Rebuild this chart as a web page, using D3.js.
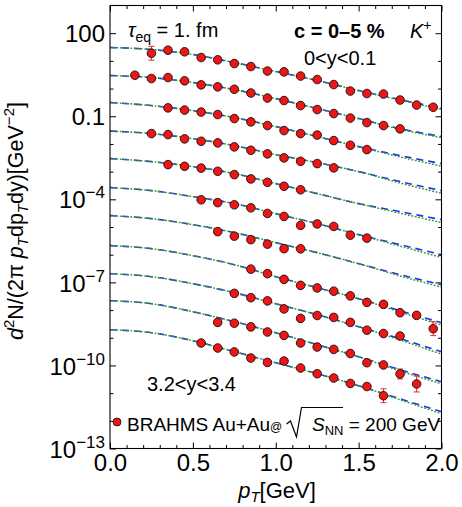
<!DOCTYPE html>
<html>
<head>
<meta charset="utf-8">
<script src="https://cdn.jsdelivr.net/npm/d3@7"></script>
<style>
body { margin: 0; background: #fff; }
svg { display: block; font-family: "Liberation Sans", Arial, sans-serif; }
</style>
</head>
<body>
<svg id="chart" width="462" height="507"></svg>
<script>
// pT bin centres (GeV) shared by all rapidity slices
const pTBins = [0.15, 0.25, 0.35, 0.45, 0.55, 0.65, 0.75, 0.85, 0.95, 1.05, 1.15, 1.25, 1.35, 1.45, 1.55, 1.65, 1.75, 1.85, 1.95];
// index of the first measured bin of each slice (top = 0<y<0.1, bottom = 3.2<y<3.4)
const firstBin = [1, 0, 2, 1, 2, 4, 5, 7, 6, 5, 4];
// BRAHMS points, log10 of the (scaled) yield as plotted
const logYield = [
    [1.276, 1.385, 1.327, 1.121, 1.038, 0.904, 0.796, 0.633, 0.604, 0.452, 0.326, 0.145, -0.090, -0.180, -0.198, -0.415, -0.596, -0.675],
    [0.481, 0.362, 0.398, 0.279, 0.134, 0.062, -0.025, -0.162, -0.343, -0.433, -0.614, -0.758, -0.903, -1.066, -1.228, -1.337, -1.456],
    [-0.697, -0.777, -0.849, -0.939, -1.084, -1.203, -1.337, -1.517, -1.626, -1.680, -1.879, -2.049, -2.204],
    [-1.626, -1.662, -1.817, -1.904, -1.962, -2.106, -2.229, -2.359, -2.504, -2.627, -2.710, -2.865],
    [-2.746, -2.808, -2.873, -2.988, -3.108, -3.263, -3.386, -3.530, -3.657],
    [-4.018, -4.119, -4.199, -4.307, -4.510, -4.618, -4.940, -4.889, -4.980, -5.294, -5.402],
    [-5.168, -5.330, -5.457, -5.619, -5.782, -5.789],
    [-6.523, -6.685, -6.891, -7.108, -7.202, -7.318, -7.488, -7.723, -7.795, -8.095, -8.192, -8.673],
    [-7.397, -7.553, -7.669, -7.958, -8.301, -8.196, -8.265, -8.445, -8.727, -8.847, -8.937],
    [-8.445, -8.474, -8.608, -8.792, -8.915, -9.190, -9.335, -9.421, -9.569, -9.902, -9.982, -10.307, -10.668],
    [-9.190, -9.371, -9.512, -9.732, -9.891, -9.841, -10.093, -10.299, -10.455, -10.650, -10.762, -11.095]
];
// [slice, pT, half width in log10]
const errorBars = [
    [0, 0.25, 0.25],
    [7, 1.75, 0.08], [7, 1.85, 0.08], [7, 1.95, 0.25],
    [8, 1.55, 0.05], [8, 1.65, 0.06], [8, 1.75, 0.06],
    [9, 1.45, 0.06], [9, 1.55, 0.08], [9, 1.65, 0.1], [9, 1.75, 0.18], [9, 1.85, 0.29],
    [10, 1.45, 0.08], [10, 1.55, 0.1], [10, 1.65, 0.25]
];

// model curves, log10 values at these pT nodes
const curvePt = [0, 0.25, 0.5, 0.75, 1.0, 1.25, 1.5, 1.75, 2.0];
const blueLog = [
    [1.482, 1.410, 1.229, 0.940, 0.615, 0.290, -0.072, -0.397, -0.722],
    [0.470, 0.398, 0.217, -0.036, -0.361, -0.722, -1.084, -1.445, -1.734],
    [-0.505, -0.614, -0.795, -1.048, -1.373, -1.734, -2.096, -2.421, -2.710],
    [-1.535, -1.626, -1.807, -2.060, -2.385, -2.674, -2.999, -3.360, -3.686],
    [-2.529, -2.638, -2.818, -3.071, -3.433, -3.794, -4.156, -4.445, -4.734],
    [-3.577, -3.686, -3.903, -4.156, -4.517, -4.878, -5.276, -5.637, -5.999],
    [-4.589, -4.698, -4.915, -5.204, -5.565, -5.926, -6.324, -6.722, -7.083],
    [-5.673, -5.782, -6.035, -6.360, -6.794, -7.191, -7.589, -8.023, -8.456],
    [-6.685, -6.794, -7.047, -7.372, -7.770, -8.167, -8.601, -9.035, -9.504],
    [-7.661, -7.770, -8.059, -8.420, -8.818, -9.251, -9.685, -10.155, -10.589],
    [-8.709, -8.818, -9.107, -9.504, -9.902, -10.299, -10.733, -11.203, -11.673]
];
const greenLog = [
    [1.482, 1.410, 1.229, 0.940, 0.615, 0.290, -0.072, -0.417, -0.752],
    [0.470, 0.398, 0.217, -0.036, -0.361, -0.722, -1.084, -1.470, -1.770],
    [-0.505, -0.614, -0.795, -1.048, -1.373, -1.734, -2.096, -2.470, -2.800],
    [-1.535, -1.626, -1.807, -2.060, -2.385, -2.674, -2.999, -3.410, -3.780],
    [-2.529, -2.638, -2.818, -3.071, -3.433, -3.794, -4.156, -4.500, -4.840],
    [-3.577, -3.686, -3.903, -4.156, -4.517, -4.878, -5.276, -5.690, -6.100],
    [-4.589, -4.698, -4.915, -5.204, -5.565, -5.926, -6.324, -6.770, -7.170],
    [-5.673, -5.782, -6.035, -6.360, -6.794, -7.191, -7.589, -8.070, -8.540],
    [-6.685, -6.794, -7.047, -7.372, -7.770, -8.167, -8.601, -9.080, -9.590],
    [-7.661, -7.770, -8.059, -8.420, -8.818, -9.251, -9.685, -10.200, -10.660],
    [-8.709, -8.818, -9.107, -9.504, -9.902, -10.299, -10.733, -11.240, -11.740]
];

const xMajor = [0, 0.5, 1.0, 1.5, 2.0];
const xMinor = [0.1, 0.2, 0.3, 0.4, 0.6, 0.7, 0.8, 0.9, 1.1, 1.2, 1.3, 1.4, 1.6, 1.7, 1.8, 1.9];
const yMajor = [1e2, 1e-1, 1e-4, 1e-7, 1e-10, 1e-13];
const yLabels = [["100", ""], ["0.1", ""], ["10", "\u22124"], ["10", "\u22127"], ["10", "\u221210"], ["10", "\u221213"]];
const yMinor = [1e1, 1, 1e-2, 1e-3, 1e-5, 1e-6, 1e-8, 1e-9, 1e-11, 1e-12];

const fontFamily = "Liberation Sans, Arial, sans-serif";

const addRuns = (textSel, runs) => {
    let cur = 0;
    runs.forEach(r => {
        const shift = r.shift || 0;
        const ts = textSel.append("tspan").attr("dy", shift - cur).text(r.t);
        cur = shift;
        if (r.x !== undefined) ts.attr("x", r.x);
        if (r.size) ts.attr("font-size", r.size);
        if (r.italic) ts.attr("font-style", "italic");
        if (r.bold) ts.attr("font-weight", "bold");
    });
};

const svg = d3.select("#chart");
const margin = { top: 5.5, right: 20.5, bottom: 58.5, left: 110 };
const width = 462 - margin.left - margin.right;
const height = 507 - margin.top - margin.bottom;

const chartArea = svg.append("g")
    .attr("transform", `translate(${margin.left},${margin.top})`);

const xScale = d3.scaleLinear().domain([0, 2]).range([0, width]);
const yScale = d3.scaleLog().domain([1e-13, 1e3]).range([height, 0]);

chartArea.append("clipPath").attr("id", "plot-clip")
    .append("rect").attr("width", width).attr("height", height);

// model curves
const line = d3.line()
    .x(d => xScale(d[0]))
    .y(d => yScale(10 ** d[1]))
    .curve(d3.curveMonotoneX);

const curves = chartArea.append("g").attr("clip-path", "url(#plot-clip)");
blueLog.forEach(row => {
    curves.append("path")
        .attr("d", line(curvePt.map((p, i) => [p, row[i]])))
        .attr("fill", "none")
        .attr("stroke", "#1f36e8")
        .attr("stroke-width", 1.6)
        .attr("stroke-dasharray", "7,5");
});
greenLog.forEach(row => {
    curves.append("path")
        .attr("d", line(curvePt.map((p, i) => [p, row[i]])))
        .attr("fill", "none")
        .attr("stroke", "#3f9c2c")
        .attr("stroke-width", 1.6)
        .attr("stroke-linecap", "round")
        .attr("stroke-dasharray", "0.5,3");
});

// error bars
const bars = chartArea.append("g").attr("stroke", "#e8262a").attr("stroke-width", 1);
errorBars.forEach(([row, pt, e]) => {
    const i = pTBins.indexOf(pt) - firstBin[row];
    const v = logYield[row][i];
    const cx = xScale(pt);
    const y0 = yScale(10 ** (v - e));
    const y1 = yScale(10 ** (v + e));
    bars.append("line").attr("x1", cx).attr("x2", cx).attr("y1", y0).attr("y2", y1);
    bars.append("line").attr("x1", cx - 3).attr("x2", cx + 3).attr("y1", y0).attr("y2", y0);
    bars.append("line").attr("x1", cx - 3).attr("x2", cx + 3).attr("y1", y1).attr("y2", y1);
});

// data points
const points = logYield.flatMap((row, r) => row.map((v, i) => ({ pT: pTBins[firstBin[r] + i], v })));
chartArea.selectAll(".data-point")
    .data(points)
    .join("circle")
    .attr("class", "data-point")
    .attr("cx", d => xScale(d.pT))
    .attr("cy", d => yScale(10 ** d.v))
    .attr("r", 4.3)
    .attr("fill", "#f01414")
    .attr("stroke", "#111")
    .attr("stroke-width", 0.9);

// axes, ticks inside the frame on all four sides
const styleAxis = g => {
    g.select(".domain").remove();
    g.attr("font-family", fontFamily).attr("font-size", 24);
    g.selectAll(".tick line").attr("stroke", "#000").attr("stroke-width", 1);
};

const xAxisG = chartArea.append("g").attr("transform", `translate(0,${height})`)
    .call(d3.axisBottom(xScale).tickValues(xMajor).tickSize(-6).tickSizeOuter(0).tickPadding(5).tickFormat(d3.format(".1f")))
    .call(styleAxis);
chartArea.append("g").attr("transform", `translate(0,${height})`)
    .call(d3.axisBottom(xScale).tickValues(xMinor).tickSize(-3.5).tickSizeOuter(0).tickFormat(""))
    .call(styleAxis);
chartArea.append("g")
    .call(d3.axisTop(xScale).tickValues(xMajor).tickSize(-6).tickSizeOuter(0).tickFormat(""))
    .call(styleAxis);
chartArea.append("g")
    .call(d3.axisTop(xScale).tickValues(xMinor).tickSize(-3.5).tickSizeOuter(0).tickFormat(""))
    .call(styleAxis);

const yAxisG = chartArea.append("g")
    .call(d3.axisLeft(yScale).tickValues(yMajor).tickSize(-6).tickSizeOuter(0).tickPadding(5).tickFormat(""))
    .call(styleAxis);
yAxisG.selectAll(".tick text").each(function (d, i) {
    const t = d3.select(this);
    t.attr("dy", "0.36em");
    t.append("tspan").text(yLabels[i][0]);
    if (yLabels[i][1]) {
        t.append("tspan").attr("dy", -10).attr("font-size", 17).text(yLabels[i][1]);
    }
});
chartArea.append("g")
    .call(d3.axisLeft(yScale).tickValues(yMinor).tickSize(-3.5).tickSizeOuter(0).tickFormat(""))
    .call(styleAxis);
chartArea.append("g").attr("transform", `translate(${width},0)`)
    .call(d3.axisRight(yScale).tickValues(yMajor).tickSize(-6).tickSizeOuter(0).tickFormat(""))
    .call(styleAxis);
chartArea.append("g").attr("transform", `translate(${width},0)`)
    .call(d3.axisRight(yScale).tickValues(yMinor).tickSize(-3.5).tickSizeOuter(0).tickFormat(""))
    .call(styleAxis);

chartArea.append("rect")
    .attr("width", width)
    .attr("height", height)
    .attr("fill", "none")
    .attr("stroke", "#000")
    .attr("stroke-width", 1.1);

// annotations
const tau = svg.append("text").attr("x", 128).attr("y", 37).attr("font-size", 20);
addRuns(tau, [{ t: "\u03c4", italic: true }, { t: "eq", size: 14, shift: 5 }, { t: " = 1. fm" }]);

const cent = svg.append("text").attr("x", 294).attr("y", 38).attr("font-size", 20);
addRuns(cent, [{ t: "c = 0\u20135 %", bold: true }, { t: "K", italic: true, x: 410 }, { t: "+", size: 14, shift: -8 }]);

svg.append("text").attr("x", 304).attr("y", 65).attr("font-size", 20).text("0<y<0.1");
svg.append("text").attr("x", 147).attr("y", 391).attr("font-size", 20).text("3.2<y<3.4");

// legend
svg.append("circle").attr("cx", 117).attr("cy", 422).attr("r", 4)
    .attr("fill", "#f01414").attr("stroke", "#111").attr("stroke-width", 0.8);
const leg = svg.append("text").attr("x", 127).attr("y", 431).attr("font-size", 19);
addRuns(leg, [
    { t: "BRAHMS Au+Au" },
    { t: "@", size: 12 },
    { t: "S", italic: true, x: 312 },
    { t: "NN", size: 13, shift: 4 },
    { t: " = 200 GeV" }
]);
svg.append("path")
    .attr("d", "M286.5,424 L290.5,421 L296.5,437 L301.5,407.5 L343,407.5")
    .attr("fill", "none")
    .attr("stroke", "#000")
    .attr("stroke-width", 1.2);

// axis titles
const xTitle = svg.append("text").attr("x", 277).attr("y", 498).attr("font-size", 22).attr("text-anchor", "middle");
addRuns(xTitle, [{ t: "p", italic: true }, { t: "T", italic: true, size: 15, shift: 4 }, { t: "[GeV]" }]);

const yTitle = svg.append("text")
    .attr("transform", "translate(23,221) rotate(-90)")
    .attr("font-size", 21.5)
    .attr("text-anchor", "middle");
addRuns(yTitle, [
    { t: "d", italic: true },
    { t: "2", size: 15, shift: -9 },
    { t: "N/(2\u03c0 " },
    { t: "p", italic: true },
    { t: "T", italic: true, size: 15, shift: 5 },
    { t: "dp" },
    { t: "T", italic: true, size: 15, shift: 5 },
    { t: "dy)[GeV" },
    { t: "\u22122", size: 15, shift: -9 },
    { t: "]" }
]);
</script>
</body>
</html>
